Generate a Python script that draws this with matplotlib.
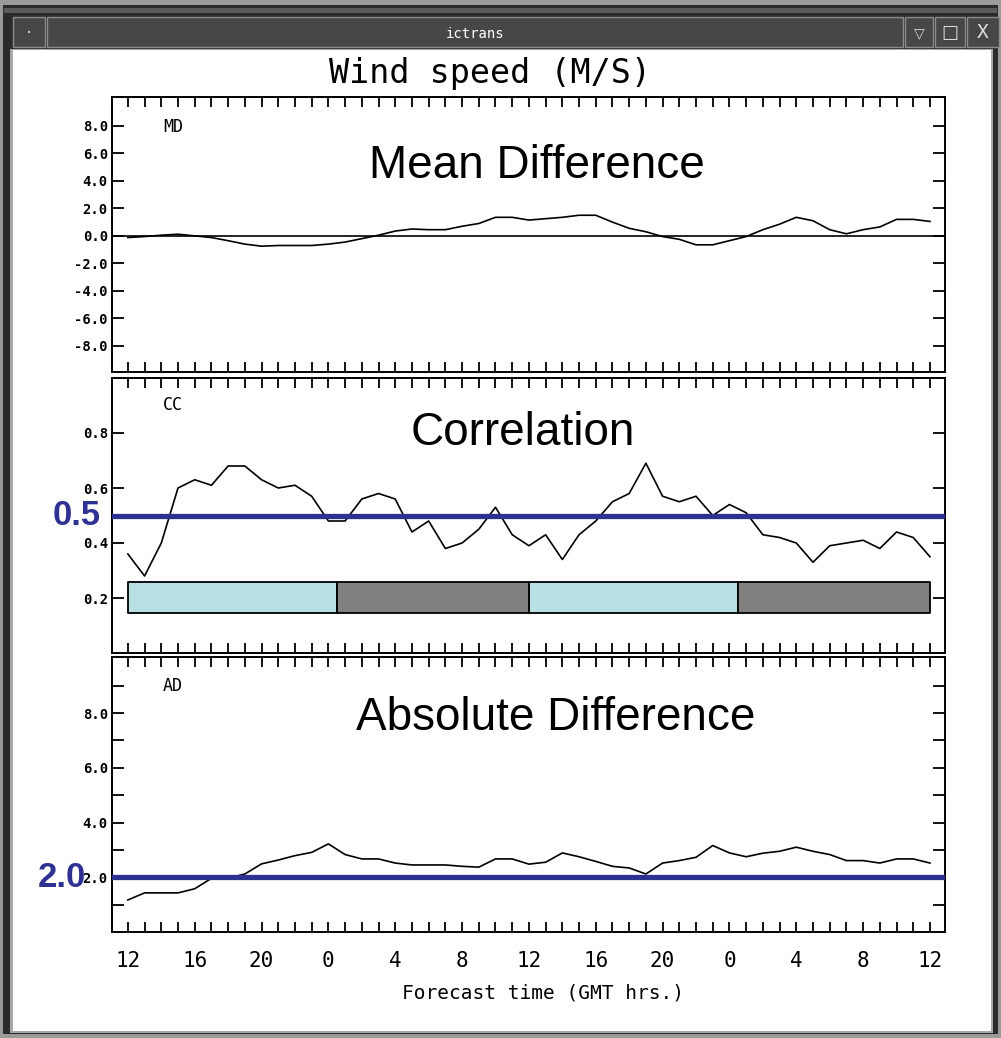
import matplotlib.pyplot as plt
from matplotlib.patches import Rectangle

# ---------------------------------------------------------
# data: hourly verification scores, 48 h forecast from 12 GMT
# ---------------------------------------------------------
hours = list(range(49))

md = [-0.12, -0.05, 0.05, 0.12, 0.0, -0.12, -0.35, -0.6, -0.75, -0.7,
      -0.7, -0.7, -0.6, -0.45, -0.2, 0.05, 0.35, 0.5, 0.45, 0.45,
      0.7, 0.9, 1.35, 1.35, 1.15, 1.25, 1.35, 1.5, 1.5, 1.0,
      0.55, 0.3, -0.05, -0.25, -0.65, -0.65, -0.35, -0.05, 0.45, 0.85,
      1.35, 1.1, 0.45, 0.15, 0.45, 0.65, 1.2, 1.2, 1.05]

cc = [0.36, 0.28, 0.40, 0.60, 0.63, 0.61, 0.68, 0.68, 0.63, 0.60,
      0.61, 0.57, 0.48, 0.48, 0.56, 0.58, 0.56, 0.44, 0.48, 0.38,
      0.40, 0.45, 0.53, 0.43, 0.39, 0.43, 0.34, 0.43, 0.48, 0.55,
      0.58, 0.69, 0.57, 0.55, 0.57, 0.50, 0.54, 0.51, 0.43, 0.42,
      0.40, 0.33, 0.39, 0.40, 0.41, 0.38, 0.44, 0.42, 0.35]

ad = [1.17, 1.43, 1.43, 1.43, 1.58, 1.96, 1.96, 2.12, 2.49, 2.63,
      2.79, 2.91, 3.22, 2.83, 2.67, 2.67, 2.52, 2.45, 2.45, 2.45,
      2.40, 2.37, 2.67, 2.67, 2.48, 2.55, 2.89, 2.75, 2.58, 2.40,
      2.34, 2.12, 2.52, 2.61, 2.73, 3.16, 2.89, 2.75, 2.88, 2.95,
      3.10, 2.95, 2.83, 2.61, 2.61, 2.52, 2.67, 2.67, 2.52]

# day / night periods (hours from start)
day_spans = [(0, 12.5), (24, 12.5)]
night_spans = [(12.5, 11.5), (36.5, 11.5)]

cc_threshold = 0.5
ad_threshold = 2.0

xtick_pos = list(range(0, 49, 4))
xtick_labels = ["12", "16", "20", "0", "4", "8", "12",
                "16", "20", "0", "4", "8", "12"]

md_ticks = [-8, -6, -4, -2, 0, 2, 4, 6, 8]
md_labels = ["-8.0", "-6.0", "-4.0", "-2.0", "0.0",
             "2.0", "4.0", "6.0", "8.0"]
cc_ticks = [0.2, 0.4, 0.6, 0.8]
cc_labels = ["0.2", "0.4", "0.6", "0.8"]
ad_ticks = list(range(1, 10))
ad_labels = ["", "2.0", "", "4.0", "", "6.0", "", "8.0", ""]

# ---------------------------------------------------------
# figure + window frame
# ---------------------------------------------------------
W, H = 1001, 1038
fig = plt.figure(figsize=(W / 100, H / 100), dpi=100)
fig.patch.set_facecolor("#2b2b2b")

MONO = "DejaVu Sans Mono"
SANS = "Liberation Sans"
BLUE = "#2e3192"


def px_rect(x0, y0, x1, y1, color, ec="none", lw=0):
    fig.add_artist(Rectangle((x0 / W, 1 - y1 / H), (x1 - x0) / W, (y1 - y0) / H,
                             transform=fig.transFigure, facecolor=color,
                             edgecolor=ec, linewidth=lw, zorder=-5))


px_rect(0, 0, W, 5, "#9a9a9a")
px_rect(0, 0, 3, H, "#9a9a9a")
px_rect(W - 3, 0, W, H, "#9a9a9a")
px_rect(0, H - 4, W, H, "#9a9a9a")
px_rect(4, 8, W - 4, 13, "#5a5a5a")
# title bar and buttons
px_rect(47, 17, 903, 47, "#474747", ec="#8c8c8c", lw=1)
px_rect(13, 17, 45, 47, "#474747", ec="#8c8c8c", lw=1)
px_rect(905, 17, 933, 47, "#474747", ec="#8c8c8c", lw=1)
px_rect(935, 17, 965, 47, "#474747", ec="#8c8c8c", lw=1)
px_rect(967, 17, 999, 47, "#474747", ec="#8c8c8c", lw=1)
fig.text(475 / W, 1 - 34 / H, "ictrans", color="white", family=MONO,
         fontsize=10, ha="center", va="center")
fig.text(919 / W, 1 - 33 / H, "\u25bd", color="#dddddd", family="DejaVu Sans",
         fontsize=10, ha="center", va="center")
fig.text(950 / W, 1 - 33 / H, "\u25a1", color="#dddddd", family="DejaVu Sans",
         fontsize=13, ha="center", va="center")
fig.text(983 / W, 1 - 33 / H, "X", color="#dddddd", family=MONO,
         fontsize=14, ha="center", va="center")
fig.text(29 / W, 1 - 33 / H, "\u00b7", color="#dddddd", family=MONO,
         fontsize=10, ha="center", va="center")
# white client area
px_rect(10, 49, 993, 1033, "#a8a8a8")
px_rect(13, 50, 991, 1031, "white")

# ---------------------------------------------------------
# panels
# ---------------------------------------------------------
left, width = 112 / W, 833 / W
ph = 275 / H
ax1 = fig.add_axes([left, 1 - 372 / H, width, ph])
ax2 = fig.add_axes([left, 1 - 653 / H, width, ph])
ax3 = fig.add_axes([left, 1 - 932 / H, width, ph])

for ax in (ax1, ax2, ax3):
    ax.set_xlim(-0.95, 48.9)
    for s in ax.spines.values():
        s.set_linewidth(1.4)
    ax.set_xticks(hours)
    ax.tick_params(axis="x", direction="in", length=7.5, width=1.3,
                   top=True, bottom=True, labelbottom=False)
    ax.tick_params(axis="y", direction="in", length=8.5, width=1.3,
                   left=True, right=True, pad=3)

# mean difference
ax1.plot(hours, md, color="black", lw=1.2)
ax1.axhline(0, color="black", lw=1.2)
ax1.set_ylim(-9.9, 10.1)
ax1.set_yticks(md_ticks)
ax1.set_yticklabels(md_labels, family=MONO, fontsize=10, fontweight="bold")
ax1.text(0.061, 0.89, "MD", transform=ax1.transAxes, family=MONO,
         fontsize=12, va="center")
ax1.text(0.51, 0.75, "Mean Difference", transform=ax1.transAxes,
         family=SANS, fontsize=33, ha="center", va="center")

# correlation
ax2.broken_barh(day_spans, (0.145, 0.115), facecolors="#b9e0e3",
                edgecolors="black", linewidth=1.3)
ax2.broken_barh(night_spans, (0.145, 0.115), facecolors="#808080",
                edgecolors="black", linewidth=1.3)
ax2.plot(hours, cc, color="black", lw=1.2)
ax2.axhline(cc_threshold, color=BLUE, lw=3.8, zorder=5)
ax2.set_ylim(0, 1.0)
ax2.set_yticks(cc_ticks)
ax2.set_yticklabels(cc_labels, family=MONO, fontsize=10, fontweight="bold")
ax2.text(0.061, 0.90, "CC", transform=ax2.transAxes, family=MONO,
         fontsize=12, va="center")
ax2.text(0.493, 0.80, "Correlation", transform=ax2.transAxes,
         family=SANS, fontsize=33, ha="center", va="center")
ax2.text(-0.042, cc_threshold, f"{cc_threshold:.1f}",
         transform=ax2.get_yaxis_transform(), color=BLUE, family=SANS,
         fontweight="bold", fontsize=25, ha="center", va="center", zorder=6)

# absolute difference
ax3.plot(hours, ad, color="black", lw=1.2)
ax3.axhline(ad_threshold, color=BLUE, lw=3.8, zorder=5)
ax3.set_ylim(0, 10.05)
ax3.set_yticks(ad_ticks)
ax3.set_yticklabels(ad_labels, family=MONO, fontsize=10, fontweight="bold")
ax3.text(0.061, 0.895, "AD", transform=ax3.transAxes, family=MONO,
         fontsize=12, va="center")
ax3.text(0.533, 0.78, "Absolute Difference", transform=ax3.transAxes,
         family=SANS, fontsize=33, ha="center", va="center")
ax3.text(-0.060, ad_threshold, f"{ad_threshold:.1f}",
         transform=ax3.get_yaxis_transform(), color=BLUE, family=SANS,
         fontweight="bold", fontsize=25, ha="center", va="center",
         zorder=6, clip_on=False)

# time axis along the bottom panel only
for h, lab in zip(xtick_pos, xtick_labels):
    ax3.text(h, -0.105, lab, transform=ax3.get_xaxis_transform(),
             family=MONO, fontsize=15, ha="center", va="center")

fig.text(543 / W, 1 - 993 / H, "Forecast time (GMT hrs.)", family=MONO,
         fontsize=14, ha="center", va="center")
fig.text(490 / W, 1 - 74 / H, "Wind speed (M/S)", family=MONO,
         fontsize=24, ha="center", va="center")

fig.savefig("out.png", dpi=100, facecolor=fig.get_facecolor())
